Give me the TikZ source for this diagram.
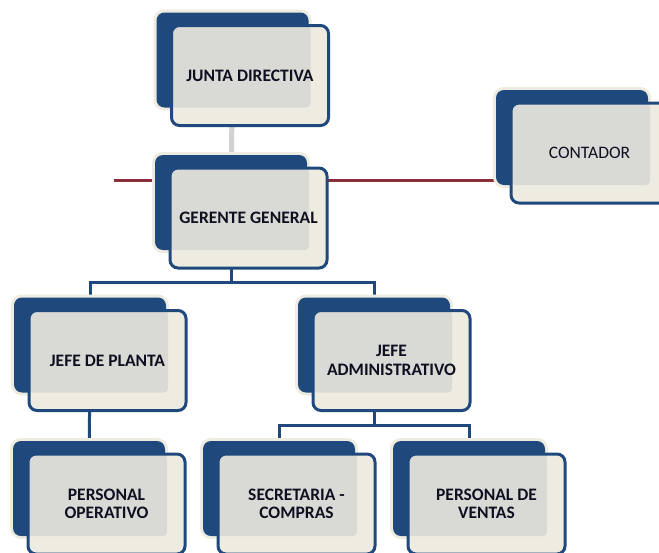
\documentclass[tikz,border=0pt]{standalone}
\usepackage{fontspec}
\setmainfont{Carlito}
\usetikzlibrary{backgrounds}

\definecolor{azul}{HTML}{1F497D}
\definecolor{crema}{HTML}{EEECE1}
\definecolor{gris}{HTML}{D9DAD6}
\definecolor{vino}{HTML}{8A2E38}
\definecolor{tinta}{HTML}{0E1020}

\tikzset{
  fondo/.style={fill=azul, preaction={draw=crema, line width=6pt}, rounded corners=8pt,
    minimum width=152pt, minimum height=95pt, inner sep=0pt},
  cargo/.style={draw=azul, line width=3pt, fill=crema, rounded corners=8pt,
    minimum width=157pt, minimum height=100pt, inner sep=0pt, align=center, text=tinta,
    font=\bfseries\fontsize{17.5}{18.5}\selectfont,
    path picture={\fill[gris, rounded corners=4pt] (path picture bounding box.north west)
      rectangle ([shift={(-18pt,18pt)}]path picture bounding box.south east);}},
  enlace/.style={draw=azul, line width=3pt},
}

\begin{document}
\begin{tikzpicture}[x=1pt, y=-1pt]
    \useasboundingbox (0,0) rectangle (659,552);

    % cajas: fondo azul y cargo encima
    \node[fondo] (juntab) at (232.5,60) {};
    \node[cargo] (junta) at ([shift={(17.5pt,-15.5pt)}]juntab.center) {JUNTA DIRECTIVA};
    \node[fondo] (gerenteb) at (231,202.5) {};
    \node[cargo] (gerente) at ([shift={(17.5pt,-15.5pt)}]gerenteb.center) {GERENTE GENERAL};
    \node[fondo] (contadorb) at (572,137.5) {};
    \node[cargo, font=\fontsize{17.5}{18.5}\selectfont] (contador) at ([shift={(17.5pt,-15.5pt)}]contadorb.center) {CONTADOR};
    \node[fondo] (plantab) at (90,345) {};
    \node[cargo] (planta) at ([shift={(17.5pt,-15.5pt)}]plantab.center) {JEFE DE PLANTA};
    \node[fondo] (adminb) at (374,345) {};
    \node[cargo] (admin) at ([shift={(17.5pt,-15.5pt)}]adminb.center) {JEFE\\ADMINISTRATIVO};
    \node[fondo] (operativob) at (89,488.5) {};
    \node[cargo] (operativo) at ([shift={(17.5pt,-15.5pt)}]operativob.center) {PERSONAL\\OPERATIVO};
    \node[fondo] (secretariab) at (279,488.5) {};
    \node[cargo] (secretaria) at ([shift={(17.5pt,-15.5pt)}]secretariab.center) {SECRETARIA -\\COMPRAS};
    \node[fondo] (ventasb) at (469,488.5) {};
    \node[cargo] (ventas) at ([shift={(17.5pt,-15.5pt)}]ventasb.center) {PERSONAL DE\\VENTAS};

    % lineas de union
    \coordinate (lazo) at (114,180);
    \coordinate (bus1) at (0,282);
    \coordinate (bus2) at (0,425);
    \begin{scope}[on background layer]
        \draw[gray!35, line width=5pt] (juntab.center) -- (gerenteb.center);
        \draw[vino, line width=3pt] (lazo) -- (lazo -| contadorb.west); % asesoria
        \draw[enlace] (gerenteb.center) -- (gerenteb |- bus1) -| (plantab.center);
        \draw[enlace] (gerenteb |- bus1) -| (adminb.center);
        \draw[enlace] (plantab.center) -- (operativob.center);
        \draw[enlace] (adminb.center) -- (adminb |- bus2) -| (secretariab.center);
        \draw[enlace] (adminb |- bus2) -| (ventasb.center);
    \end{scope}
\end{tikzpicture}
\end{document}
